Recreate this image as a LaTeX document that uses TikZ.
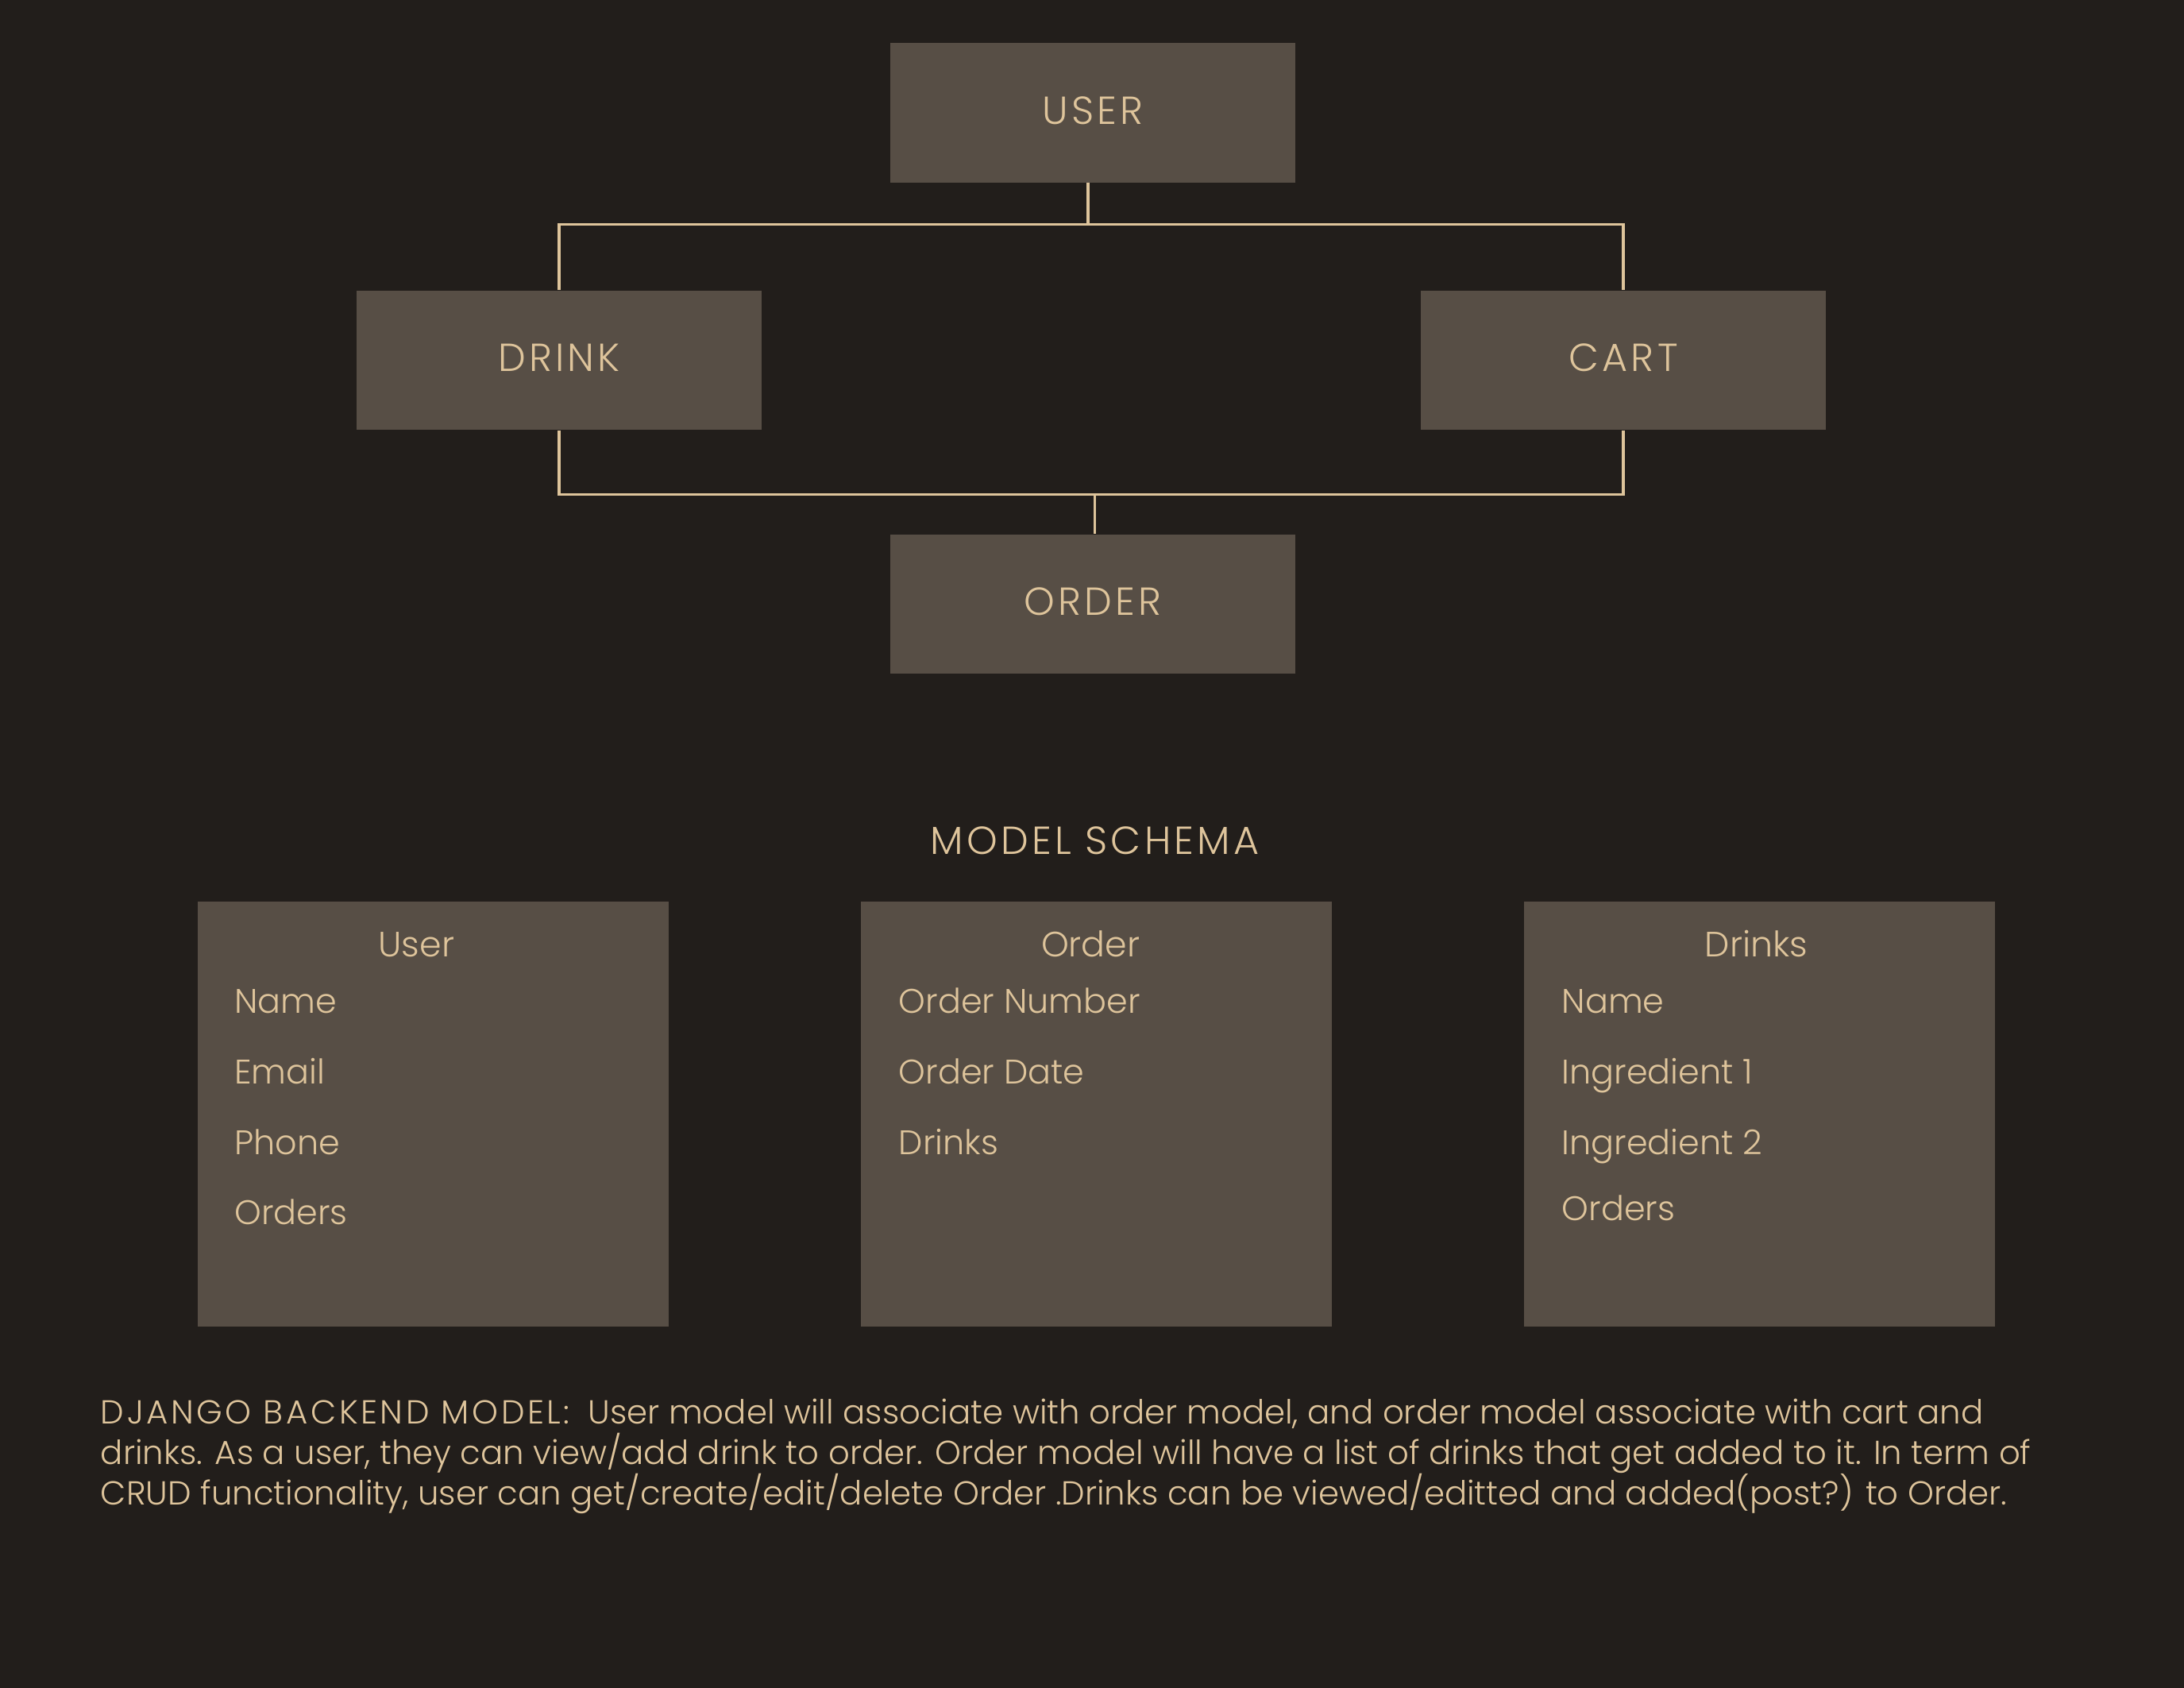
\documentclass[tikz,border=0pt]{standalone}
\usepackage{fontspec}
\setmainfont{Poppins}[UprightFont=* Light]
\newfontfamily\capsfont{Poppins}[UprightFont=* Light, LetterSpace=8.5]
\usepackage{tikz}

\definecolor{bgdark}{HTML}{221E1B}
\definecolor{boxbg}{HTML}{574E45}
\definecolor{sand}{HTML}{DEC49B}

\newcommand\tightlines{\lineskiplimit=-20pt\relax}

\begin{document}
\begin{tikzpicture}[x=0.017538cm, y=-0.017538cm,
    box/.style={fill=boxbg, inner sep=0pt, minimum width=145.2pt, minimum height=49.9pt,
        text=sand, text height=10pt, text depth=2pt, font=\fontsize{14}{17}\capsfont},
    table/.style={fill=boxbg, inner sep=0pt, minimum width=168.7pt, minimum height=152.2pt},
    label/.style={text=sand, inner sep=0pt, font=\fontsize{12.2}{15}\selectfont},
    title/.style={label, anchor=base, font=\fontsize{12.6}{15}\selectfont},
    link/.style={draw=sand, line width=1pt}]

        \useasboundingbox (0, 0) rectangle (1568, 1211.6);
        \fill[bgdark] (0, 0) rectangle (1568, 1211.6);

        % entity boxes
        \node[box] (U) at (784.5, 81) {USER};
        \node[box] (D) at (401.5, 258.5) {DRINK};
        \node[box] (C) at (1165.5, 258.5) {CART};
        \node[box] (O) at (784.5, 433.5) {ORDER};

        \coordinate (J1) at (781, 161);
        \coordinate (J2) at (786, 355);

        \draw[link] (U.south -| J1) -- (J1);
        \draw[link] (D.north) |- (J1) -| (C.north);
        \draw[link] (D.south) |- (J2) -| (C.south);
        \draw[link] (J2) -- (O.north -| J2);

        \node[label, anchor=base, font=\fontsize{14}{17}\capsfont] (MS) at (786, 613) {MODEL SCHEMA};

        % schema tables
        \node[table] (TU) at (311, 799.5) {};
        \node[table] (TO) at (787, 799.5) {};
        \node[table] (TD) at (1263, 799.5) {};

        \node[title] (TU0) at (299, 687) {User};
        \node[label, anchor=base west] (TU1) at (168, 727) {Name};
        \node[label, anchor=base west] (TU2) at (168, 778) {Email};
        \node[label, anchor=base west] (TU3) at (168, 829) {Phone};
        \node[label, anchor=base west] (TU4) at (168, 879) {Orders};

        \node[title] (TO0) at (783, 687) {Order};
        \node[label, anchor=base west] (TO1) at (645, 727) {Order Number};
        \node[label, anchor=base west] (TO2) at (645, 778) {Order Date};
        \node[label, anchor=base west] (TO3) at (645, 829) {Drinks};

        \node[title] (TD0) at (1261, 687) {Drinks};
        \node[label, anchor=base west] (TD1) at (1121, 727) {Name};
        \node[label, anchor=base west] (TD2) at (1121, 778) {Ingredient 1};
        \node[label, anchor=base west] (TD3) at (1121, 829) {Ingredient 2};
        \node[label, anchor=base west] (TD4) at (1121, 876) {Orders};

        % description
        \node[label, anchor=base west, align=left, font=\fontsize{11.9}{14.5}\selectfont\tightlines] (DESC) at (72, 1080)
            {{\capsfont DJANGO BACKEND MODEL:}\ \ User model will associate with order model, and order model associate with cart and\\
             drinks. As a user, they can view/add drink to order. Order model will have a list of drinks that get added to it. In term of\\
             CRUD functionality, user can get/create/edit/delete Order .Drinks can be viewed/editted and added(post?) to Order.};
    \end{tikzpicture}
\end{document}
